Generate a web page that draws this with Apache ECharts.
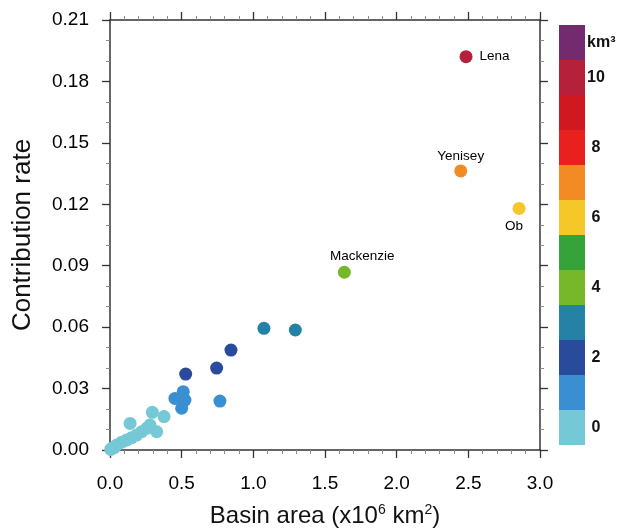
<!DOCTYPE html>
<html><head><meta charset="utf-8">
<script src="https://cdn.jsdelivr.net/npm/echarts@6/dist/echarts.min.js"></script>
<style>html,body{margin:0;padding:0;background:#fff}#c{width:617px;height:528px}</style>
</head><body><div id="c"></div>
<script>
// ---- data ----
const riverNames = ['Lena','Yenisey','Ob','Mackenzie','','','','','','','','','','','','','','','','','','','','','','','','',''];
const basinArea = [2.484,2.447,2.854,1.635,1.074,1.293,0.844,0.744,0.528,0.767,0.511,0.453,0.523,0.500,0.140,0.295,0.377,0.326,0.279,0.256,0.221,0.186,0.151,0.117,0.082,0.047,0.012,0.030,0.005];
const contributionRate = [0.1921,0.1363,0.1180,0.0868,0.0594,0.0586,0.0488,0.0400,0.0371,0.0239,0.0285,0.0252,0.0244,0.0204,0.0130,0.0184,0.0163,0.0089,0.0122,0.0106,0.0089,0.0073,0.0060,0.0049,0.0038,0.0024,0.0008,0.0012,0.0003];
const volumeKm3 = [10,7,6,4,3,3,2,2,2,1,1,1,1,1,0,0,0,0,0,0,0,0,0,0,0,0,0,0,0];
const xTickValues = [0.0,0.5,1.0,1.5,2.0,2.5,3.0];
const yTickValues = [0.00,0.03,0.06,0.09,0.12,0.15,0.18,0.21];
const colorLevels = [0,1,2,3,4,5,6,7,8,9,10,11];
const colorLevelLabels = ['0','','2','','4','','6','','8','','10','km³'];
const levelColors = ['#75c8d6','#3a8fd2','#2a4a9c','#2581a5','#76b82a','#36a23a','#f5c729','#f28b24','#e8211f','#cf1820','#b5213a','#742a6e'];

// ---- styles ----
const FONT = '"Liberation Sans", Arial, Helvetica, sans-serif';
const AX = '#333';
const labelPlacement = {
  Lena: {position: 'right', distance: 7, offset: [0, 0]},
  Yenisey: {position: 'top', distance: 1, offset: [0, 0]},
  Ob: {position: 'bottom', distance: 4, offset: [-5, 0]},
  Mackenzie: {position: 'top', distance: 4, offset: [18, 2]}
};

const points = basinArea.map((x, i) => {
  const item = {value: [x, contributionRate[i], volumeKm3[i]], name: riverNames[i]};
  const lp = labelPlacement[riverNames[i]];
  if (lp) item.label = Object.assign({show: true, formatter: '{b}'}, lp);
  return item;
});

const xMin = xTickValues[0], xMax = xTickValues[xTickValues.length - 1];
const yMin = yTickValues[0], yMax = yTickValues[yTickValues.length - 1];
const xInt = xTickValues[1] - xTickValues[0];
const yInt = yTickValues[1] - yTickValues[0];

function axisBase(showLabels, fmt, margin) {
  return {
    axisLine: {show: true, onZero: false, lineStyle: {color: AX, width: 1.5}},
    axisTick: {show: true, inside: false, length: 8, lineStyle: {color: AX, width: 1.3}},
    splitLine: {show: false},
    minorSplitLine: {show: false},
    axisLabel: {show: showLabels, formatter: fmt, fontFamily: FONT, fontSize: 19, color: '#000', margin: margin}
  };
}

const option = {
  animation: false,
  backgroundColor: '#fff',
  grid: {left: 110, right: 77, top: 20, bottom: 78, containLabel: false, outerBoundsMode: 'none'},
  xAxis: [
    Object.assign(axisBase(true, v => v.toFixed(1), 24), {
      type: 'value', position: 'bottom', min: xMin, max: xMax, interval: xInt,
      minorTick: {show: true, splitNumber: 5, length: 4, lineStyle: {color: '#888', width: 1}},
      name: 'Basin area (x10{sup|6} km{sup|2})', nameLocation: 'middle', nameGap: 53,
      nameTextStyle: {fontFamily: FONT, fontSize: 24, color: '#111', lineHeight: 27,
        rich: {sup: {fontFamily: FONT, fontSize: 14, verticalAlign: 'top', lineHeight: 13, color: '#111'}}}
    }),
    Object.assign(axisBase(false), {
      type: 'value', position: 'top', min: xMin, max: xMax, interval: xInt,
      minorTick: {show: true, splitNumber: 5, length: 4, lineStyle: {color: '#888', width: 1}}
    })
  ],
  yAxis: [
    Object.assign(axisBase(true, v => v.toFixed(2), 21), {
      type: 'value', position: 'left', min: yMin, max: yMax, interval: yInt,
      minorTick: {show: true, splitNumber: 3, length: 4, lineStyle: {color: '#888', width: 1}},
      name: 'Contribution rate', nameLocation: 'middle', nameGap: 74,
      nameTextStyle: {fontFamily: FONT, fontSize: 26, color: '#111'}
    }),
    Object.assign(axisBase(false), {
      type: 'value', position: 'right', min: yMin, max: yMax, interval: yInt,
      minorTick: {show: true, splitNumber: 3, length: 4, lineStyle: {color: '#888', width: 1}}
    })
  ],
  visualMap: {
    type: 'piecewise',
    dimension: 2,
    seriesIndex: 0,
    orient: 'vertical',
    left: 544, top: 10,
    itemWidth: 26, itemHeight: 35, itemGap: 0,
    itemSymbol: 'rect',
    align: 'left',
    textGap: 2,
    hoverLink: false,
    selectedMode: false,
    pieces: colorLevels.map((v, i) => {
      const t = colorLevelLabels[i];
      let label = ' ';
      if (t) label = /^\d+$/.test(t) ? '{c|' + t + '}' : t;
      return {min: v - 0.5, max: v + 0.5, label: label, color: levelColors[i]};
    }),
    textStyle: {fontFamily: FONT, fontSize: 16, fontWeight: 'bold', color: '#111',
      rich: {c: {width: 18, align: 'center', fontFamily: FONT, fontSize: 16, fontWeight: 'bold', color: '#111'}}}
  },
  series: [{
    type: 'scatter',
    xAxisIndex: 0, yAxisIndex: 0,
    symbol: 'circle',
    symbolSize: 13,
    itemStyle: {opacity: 1},
    data: points,
    label: {show: false, fontFamily: FONT, fontSize: 13.5, color: '#000'},
    emphasis: {disabled: true}
  }]
};

const chart = echarts.init(document.getElementById('c'), null, {renderer: 'canvas'});
chart.setOption(option);
</script>
</body></html>
